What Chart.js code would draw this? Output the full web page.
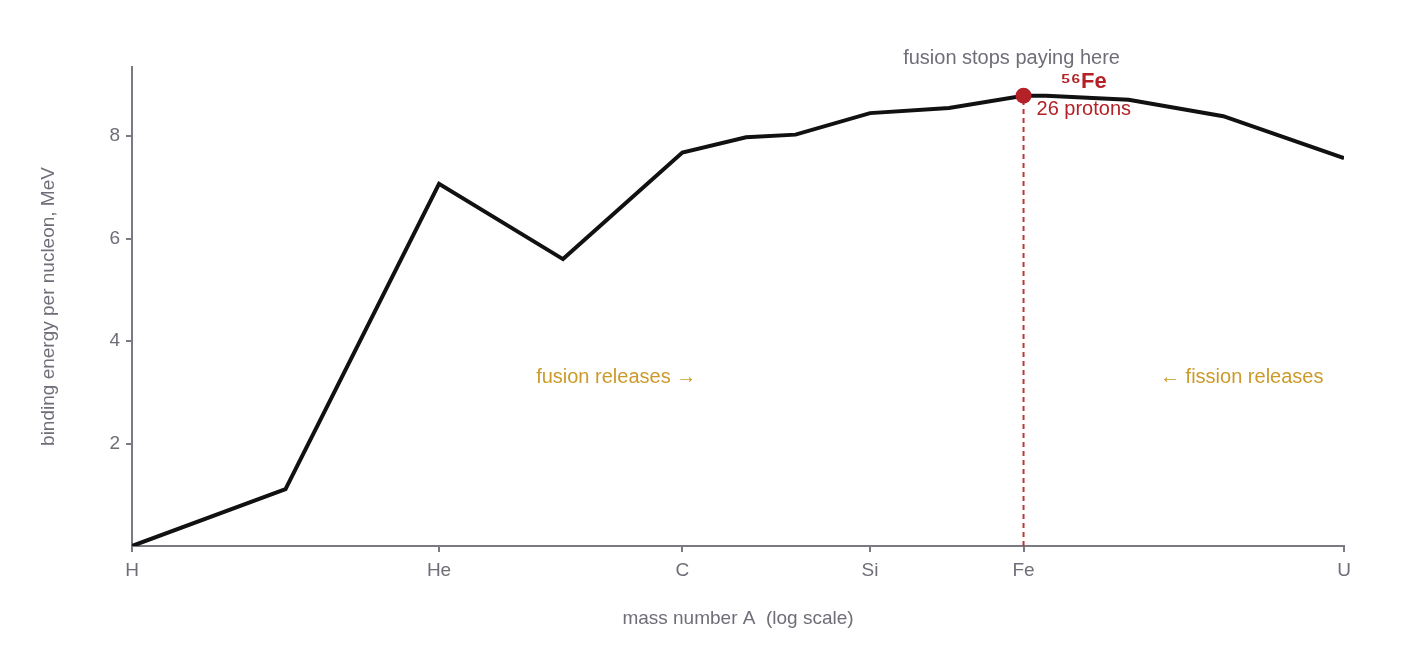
<!DOCTYPE html>
<html>
<head>
<meta charset="utf-8">
<script src="https://cdn.jsdelivr.net/npm/chart.js@4.4.1/dist/chart.umd.min.js"></script>
<style>
  html, body { margin: 0; padding: 0; background: #ffffff; }
  #wrap { width: 1410px; height: 660px; position: relative; }
</style>
</head>
<body>
<div id="wrap"><canvas id="c" width="1410" height="660"></canvas></div>
<script>
// ---- data ----
const massNumbers   = [1, 2, 4, 7, 12, 16, 20, 28, 40, 56, 62, 90, 138, 238];
const bindingEnergy = [0, 1.11, 7.07, 5.6, 7.68, 7.98, 8.03, 8.45, 8.55, 8.79, 8.79, 8.71, 8.39, 7.57];
const xTickValues = [1, 4, 12, 28, 56, 238];
const xTickLabels = ['H', 'He', 'C', 'Si', 'Fe', 'U'];
const yTickValues = [2, 4, 6, 8];
const peakA = 56;
const peakEnergy = 8.79;
const peakLabel = '\u2075\u2076Fe';
const peakSubLabel = '26 protons';
const peakNote = 'fusion stops paying here';
const fusionNote = 'fusion releases \u2192';
const fissionNote = '\u2190 fission releases';
const noteEnergy = 3.28;
const fusionNoteA = 8.9;
const fissionNoteA = 150;

const FONT = "'Liberation Sans', Arial, sans-serif";
const GRAY = '#6e6e78';
const AXIS = '#7a7a82';
const RED = '#b22226';
const GOLD = '#cc9a2a';

const linePts = massNumbers.map((a, i) => ({x: a, y: bindingEnergy[i]}));

const annotations = {
  id: 'annotations',
  afterDatasetsDraw(chart) {
    const {ctx, scales: {x, y}} = chart;
    const px = x.getPixelForValue(peakA);
    const py = y.getPixelForValue(peakEnergy);
    ctx.save();
    ctx.textBaseline = 'middle';
    ctx.fillStyle = GRAY;
    ctx.font = '20px ' + FONT;
    ctx.textAlign = 'center';
    ctx.fillText(peakNote, px - 12, py - 37);
    ctx.fillStyle = RED;
    ctx.font = 'bold 22px ' + FONT;
    ctx.textAlign = 'left';
    ctx.fillText(peakLabel, px + 37, py - 14);
    ctx.font = '20px ' + FONT;
    ctx.fillText(peakSubLabel, px + 13, py + 14);
    ctx.fillStyle = GOLD;
    ctx.textAlign = 'center';
    ctx.fillText(fusionNote, x.getPixelForValue(fusionNoteA), y.getPixelForValue(noteEnergy));
    ctx.fillText(fissionNote, x.getPixelForValue(fissionNoteA), y.getPixelForValue(noteEnergy));
    ctx.restore();
  }
};

new Chart(document.getElementById('c'), {
  type: 'line',
  data: {
    datasets: [
      {
        label: 'peak point',
        data: [{x: peakA, y: peakEnergy}],
        showLine: false,
        pointRadius: 8,
        pointBackgroundColor: RED,
        pointBorderColor: RED,
        pointBorderWidth: 0,
        order: 0
      },
      {
        label: 'binding energy',
        data: linePts,
        borderColor: '#111111',
        borderWidth: 4,
        pointRadius: 0,
        tension: 0,
        fill: false,
        order: 1
      },
      {
        label: 'peak marker',
        data: [{x: peakA, y: 0}, {x: peakA, y: peakEnergy}],
        borderColor: 'rgba(178,34,38,0.9)',
        borderWidth: 2,
        borderDash: [5, 4],
        pointRadius: 0,
        fill: false,
        order: 2
      }
    ]
  },
  options: {
    responsive: false,
    animation: false,
    devicePixelRatio: 1,
    layout: { padding: { left: 0, right: 66, top: 67, bottom: 0 } },
    plugins: { legend: { display: false }, tooltip: { enabled: false } },
    scales: {
      x: {
        type: 'logarithmic',
        min: 1,
        max: 238,
        afterBuildTicks(scale) { scale.ticks = xTickValues.map(v => ({value: v})); },
        afterFit(scale) { scale.height = 114; },
        ticks: {
          autoSkip: false,
          maxRotation: 0,
          color: GRAY,
          font: { family: FONT, size: 19 },
          padding: 7,
          callback(value) { const i = xTickValues.indexOf(value); return i >= 0 ? xTickLabels[i] : ''; }
        },
        grid: { display: true, drawOnChartArea: false, drawTicks: true, tickLength: 6, color: AXIS, lineWidth: 2 },
        border: { display: true, color: AXIS, width: 2 },
        title: {
          display: true,
          text: 'mass number A  (log scale)',
          color: GRAY,
          font: { family: FONT, size: 19 },
          padding: { top: 0, bottom: 30 }
        }
      },
      y: {
        min: 0,
        max: 9.35,
        afterBuildTicks(scale) { scale.ticks = yTickValues.map(v => ({value: v})); },
        afterFit(scale) { scale.width = 132; },
        ticks: {
          color: GRAY,
          font: { family: FONT, size: 19 },
          padding: 6
        },
        grid: { display: true, drawOnChartArea: false, drawTicks: true, tickLength: 6, color: AXIS, lineWidth: 2 },
        border: { display: true, color: AXIS, width: 2 },
        title: {
          display: true,
          text: 'binding energy per nucleon, MeV',
          color: GRAY,
          font: { family: FONT, size: 19 },
          padding: { top: 37, bottom: 0 }
        }
      }
    }
  },
  plugins: [annotations]
});
</script>
</body>
</html>
